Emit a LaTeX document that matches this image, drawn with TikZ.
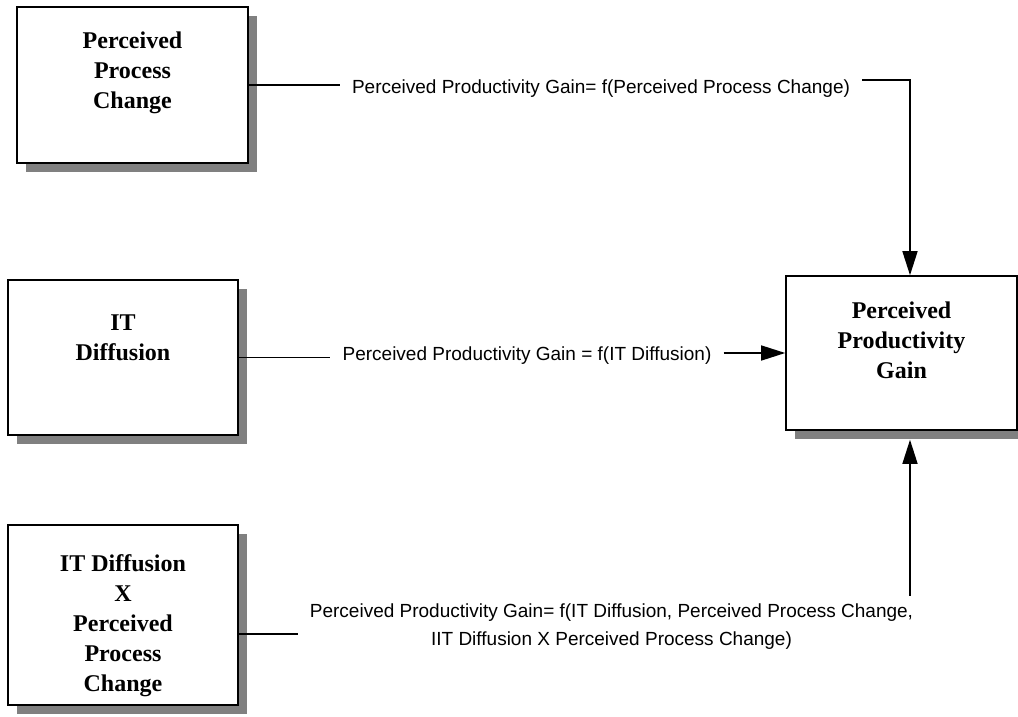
\documentclass[tikz,border=0pt]{standalone}
\usepackage{fontspec}
\setmainfont{Liberation Serif}
\setsansfont{Liberation Sans}
\usetikzlibrary{positioning, arrows.meta, shadows}

\tikzset{
  box/.style={draw, line width=1.6pt, fill=white, inner sep=0pt,
    drop shadow={shadow xshift=9pt, shadow yshift=-9pt, fill=black!50, opacity=1}},
  boxtext/.style={font=\fontsize{24}{30}\selectfont\bfseries, align=center},
  eqn/.style={font=\sffamily\fontsize{19}{28}\selectfont, align=center, inner xsep=12pt, inner ysep=8pt},
  conn/.style={line width=1.5pt},
  arr/.style={conn, -{Triangle[length=24pt, width=15pt]}},
}

\begin{document}
\begin{tikzpicture}[x=1pt, y=-1pt]

    \useasboundingbox (0,0) rectangle (1018,717);

    % Four boxes, three inputs on the left and the outcome on the right
    \node[box, minimum width=231pt, minimum height=156pt,
      label={[boxtext, yshift=12pt]center:Perceived\\Process\\Change}] (ppc) at (132.5,85) {};
    \node[box, minimum width=230pt, minimum height=155pt,
      label={[boxtext, yshift=20pt]center:IT\\Diffusion}] (itd) at (123,357.5) {};
    \node[box, minimum width=230pt, minimum height=180pt,
      label={[boxtext, yshift=-11pt]center:IT Diffusion\\X\\Perceived\\Process\\Change}] (ixp) at (123,615) {};
    \node[box, minimum width=231pt, minimum height=154pt,
      label={[boxtext, yshift=13pt]center:Perceived\\Productivity\\Gain}] (ppg) at (901.5,353) {};

    % Equations written along the connectors
    \node[eqn] (lbl1) at (601,89) {Perceived Productivity Gain= f(Perceived Process Change)};
    \node[eqn] (lbl2) at (527,356) {Perceived Productivity Gain = f(IT Diffusion)};
    \node[eqn] (lbl3) at (611.5,627) {Perceived Productivity Gain= f(IT Diffusion, Perceived Process Change,\\IIT Diffusion X Perceived Process Change)};

    \coordinate (bend) at (910,80);

    % Connectors
    \draw[conn] (ppc.east) -- (ppc.east -| lbl1.west);
    \draw[arr] (lbl1.east |- bend) -- (bend) -- (bend |- ppg.north);
    \draw[conn] (itd.east) -- (itd.east -| lbl2.west);
    \draw[arr] (lbl2.east |- ppg.west) -- (ppg.west);
    \draw[conn] ([yshift=-19pt]ixp.east) -- ([yshift=-19pt]ixp.east -| lbl3.west);
    \draw[arr] (lbl3.north -| bend) -- ([yshift=-9pt]ppg.south -| bend);

\end{tikzpicture}
\end{document}
